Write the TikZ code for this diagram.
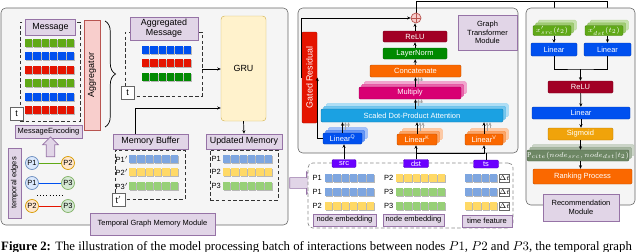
\documentclass[tikz,border=0pt]{standalone}
\usepackage{fontspec}
\setmainfont{Liberation Serif}
\setsansfont{Liberation Sans}
\usetikzlibrary{arrows.meta, positioning, calc, shadows, shapes.arrows, decorations.pathreplacing}

\definecolor{panelfill}{HTML}{F5F5F5}
\definecolor{paneldraw}{HTML}{666666}
\definecolor{lilafill}{HTML}{E1D5E7}
\definecolor{liladraw}{HTML}{9673A6}
\definecolor{rosefill}{HTML}{F8CECC}
\definecolor{rosedraw}{HTML}{B85450}
\definecolor{grufill}{HTML}{FFF2CC}
\definecolor{grudraw}{HTML}{D6B656}
\definecolor{cobaltbox}{HTML}{0050EF}
\definecolor{crimsonbox}{HTML}{A20025}
\definecolor{redbox}{HTML}{E51400}
\definecolor{emeraldbox}{HTML}{008A00}
\definecolor{limebox}{HTML}{60A917}
\definecolor{orangebox}{HTML}{FA6800}
\definecolor{magentabox}{HTML}{D80073}
\definecolor{cyanbox}{HTML}{1BA1E2}
\definecolor{amberbox}{HTML}{F0A30A}
\definecolor{olivebox}{HTML}{6D8764}
\definecolor{violetbox}{HTML}{6A00FF}
\definecolor{memblue}{HTML}{7EA6E0}
\definecolor{memyellow}{HTML}{FFD966}
\definecolor{memgreen}{HTML}{97D077}
\definecolor{pbluefill}{HTML}{DAE8FC}
\definecolor{pbluedraw}{HTML}{6C8EBF}
\definecolor{porangefill}{HTML}{FFE6CC}
\definecolor{porangedraw}{HTML}{D79B00}
\definecolor{pgreenfill}{HTML}{D5E8D4}
\definecolor{pgreendraw}{HTML}{82B366}

\newcommand{\lblfont}{\sffamily\fontsize{7.6}{8.6}\selectfont}
\newcommand{\boxfont}{\sffamily\fontsize{6.4}{7.4}\selectfont}

% one row of embedding cells: x, y (centre), count, colour
\newcommand{\cellrow}[4]{%
  \foreach \k in {1,...,#3}{
    \fill[black!28] ({#1+(\k-1)*8.3+0.9},{#2-3.7+0.9}) rectangle ++(7.4,7.4);
    \fill[#4] ({#1+(\k-1)*8.3},{#2-3.7}) rectangle ++(7.4,7.4);
  }}

\begin{document}
\begin{tikzpicture}[
  x=0.03cm, y=-0.03cm,
  >={Stealth[length=3pt,width=2.6pt]},
  every node/.style={font=\boxfont, inner sep=0pt},
  wh/.style 2 args={minimum width=#1*0.03cm, minimum height=#2*0.03cm},
  panel/.style={draw=paneldraw, fill=panelfill, rounded corners=4pt, line width=0.5pt},
  lila/.style={draw=liladraw, fill=lilafill, align=center, line width=0.6pt},
  group/.style={draw=black!80, densely dashed, line width=0.5pt},
  tbox/.style={draw=paneldraw, fill=white, wh={13}{13}, font=\lblfont},
  blk/.style={fill=#1, draw=#1!75!black, text=white, align=center, rounded corners=1pt},
  stk/.style={blk=#1,
    general shadow={fill=#1!35, draw=#1!45, shadow xshift=4.5pt, shadow yshift=4.5pt},
    general shadow={fill=#1!60, draw=#1!70, shadow xshift=2.3pt, shadow yshift=2.3pt}},
  pnode/.style 2 args={circle, fill=#1, draw=#2, wh={13}{13}, line width=0.6pt},
  dtbox/.style={draw=paneldraw, fill=white, wh={10}{8}},
  link/.style={->, line width=0.6pt},
  ghost/.style={->, black!35, line width=0.4pt}
]
\useasboundingbox (0,0) rectangle (640,252);

% Temporal Graph Memory Module
\node[panel, wh={287}{217}] (memmod) at (144.5,116.5) {};

% messages
\node[group, wh={60}{99}] (msgbox) at (50,71.5) {};
\node[lila, wh={50}{16}, font=\lblfont] (msgl) at (50.5,27) {Message};
\cellrow{25}{43}{6}{limebox}
\cellrow{25}{56}{6}{cobaltbox}
\cellrow{25}{70}{6}{redbox}
\cellrow{25}{83}{6}{limebox}
\cellrow{25}{97}{6}{cobaltbox}
\cellrow{25}{110}{6}{redbox}
\node[tbox] (tmsg) at (16.5,114) {t};

\node[draw=rosedraw, fill=rosefill, rotate=90, wh={110}{16}, font=\lblfont] (aggr) at (92,75) {Aggregator};
\draw[decorate, decoration={brace, amplitude=9pt}, line width=0.6pt] (105,21) -- (105,127);

% aggregated messages
\node[group, wh={77}{64}] (aggbox) at (163.5,64) {};
\node[lila, wh={68}{23}, font=\lblfont] (aggl) at (164,28.5) {Aggregated\\Message};
\cellrow{142}{50}{6}{cobaltbox}
\cellrow{142}{63}{6}{redbox}
\cellrow{142}{77}{6}{emeraldbox}
\node[tbox] (tagg) at (127.5,93) {t};

\node[draw=grudraw, fill=grufill, rounded corners=3pt, wh={45}{105}, font=\lblfont] (gru) at (243.5,68.5) {GRU};
\coordinate (aggout) at ($(aggbox.east)+(0,5)$);
\draw[link] (aggout) -- (aggout -| gru.west);

% memory buffer
\node[lila, wh={75}{15}, font=\lblfont] (bufl) at (150.5,141.5) {Memory Buffer};
\node[group, wh={70}{49}] (bufbox) at (150,174.5) {};
\node[anchor=west] (bp1) at (115.5,159) {P1$'$};
\node[anchor=west] (bp2) at (115.5,172) {P2$'$};
\node[anchor=west] (bp3) at (115.5,186) {P3$'$};
\cellrow{129}{159}{6}{memblue}
\cellrow{129}{172}{6}{memyellow}
\cellrow{129}{186}{6}{memgreen}
\node[tbox] (tbuf) at (118.5,200) {t$'$};
\draw[link] (bufl.north -| 135,0) |- (gru.west |- 0,108);

% updated memory
\node[lila, wh={76}{15}, font=\lblfont] (updl) at (244,141.5) {Updated Memory};
\node[group, wh={68}{50}] (updbox) at (244,175) {};
\node[anchor=west] (up1) at (211.5,159) {P1};
\node[anchor=west] (up2) at (211.5,172) {P2};
\node[anchor=west] (up3) at (211.5,186) {P3};
\cellrow{223}{159}{6}{memblue}
\cellrow{223}{172}{6}{memyellow}
\cellrow{223}{186}{6}{memgreen}
\draw[link] (gru.south) -- (updl.north);

% temporal edges
\node[lila, rotate=90, wh={70}{13}] (tedge) at (14.5,183) {temporal edges};
\node[pnode={pbluefill}{pbluedraw}] (ea1) at (32,163) {P1};
\node[pnode={porangefill}{porangedraw}] (ea2) at (68,163) {P2};
\node[pnode={pbluefill}{pbluedraw}] (eb1) at (32,183) {P1};
\node[pnode={pgreenfill}{pgreendraw}] (eb3) at (68,183) {P3};
\node[pnode={porangefill}{porangedraw}] (ec2) at (32,206) {P2};
\node[pnode={pgreenfill}{pgreendraw}] (ec3) at (68,206) {P3};
\draw[limebox, line width=0.7pt] (ea1) -- (ea2);
\draw[cobaltbox, line width=0.7pt] (eb1) -- (eb3);
\draw[redbox, line width=0.7pt] (ec2) -- (ec3);
\draw[dotted, line width=0.7pt] (37,195) -- (63,195);

\node[lila, wh={67}{13}] (menc) at (48.5,131.5) {MessageEncoding};
\node[single arrow, draw=liladraw, fill=lilafill, line width=0.6pt, shape border rotate=90,
  minimum height=20*0.03cm, inner sep=3.4pt, single arrow head extend=3pt] (encarr) at (50.5,149) {};

\node[lila, wh={125}{22}] (memmodl) at (152.5,224) {Temporal Graph Memory Module};

\node[single arrow, draw=liladraw, fill=lilafill, line width=0.6pt,
  minimum height=28*0.03cm, inner sep=4.3pt, single arrow head extend=5pt] (feedarr) at (301,183) {};

% Graph Transformer Module
\node[panel, wh={220}{145}] (gtmod) at (408,80.5) {};
\node[lila, wh={59}{35}] (gtmodl) at (487.5,32.5) {Graph\\Transformer\\Module};

\draw[line width=0.6pt] (416,13) |- (607,1) -- (607,20);
\draw[line width=0.6pt] (554,1) -- (554,20);

\node[circle, draw=rosedraw, fill=rosefill, wh={10}{10}, line width=0.6pt,
  path picture={\draw[rosedraw, line width=0.6pt]
    (path picture bounding box.north) -- (path picture bounding box.south)
    (path picture bounding box.west) -- (path picture bounding box.east);}] (oplus) at (416,18) {};
\node[blk=redbox, rotate=90, wh={91}{15}, font=\lblfont] (gres) at (309.5,77.5) {Gated Residual};
\node[blk=crimsonbox, wh={64}{11}] (relu) at (415,36.5) {ReLU};
\node[blk=emeraldbox, wh={64}{11}] (lnorm) at (415,53.5) {LayerNorm};
\node[blk=orangebox, wh={91}{12}] (concat) at (415.5,71) {Concatenate};
\node[stk=magentabox, wh={102}{12}] (mult) at (410,93) {Multiply};
\node[stk=cyanbox, wh={182}{13}] (attn) at (412,115.5) {Scaled Dot-Product Attention};
\node[stk=cobaltbox, wh={39}{11}] (lq) at (342.5,138.5) {Linear\textsuperscript{Q}};
\node[stk=orangebox, wh={40}{11}] (lk) at (417,139.5) {Linear\textsuperscript{K}};
\node[stk=orangebox, wh={38}{11}] (lv) at (484,139.5) {Linear\textsuperscript{V}};

\draw[link] (relu.north) -- (relu.north |- oplus.south);
\draw[link] (lnorm) -- (relu);
\draw[link] (concat) -- (lnorm);
\draw[link] (concat.south |- mult.north) -- (concat.south);
\draw[link] (concat.south |- attn.north) -- (concat.south |- mult.south);
\draw[link] (lq.north) -- (lq.north |- attn.south);
\draw[link] (lk.north) -- (lk.north |- attn.south);
\draw[link] (lv.north) -- (lv.north |- attn.south);
\foreach \d in {3,6}{
  \draw[ghost] ($(concat.south |- mult.north)+(\d,-\d)$) -- ($(concat.south)+(\d,0)$);
  \draw[ghost] ($(concat.south |- attn.north)+(\d,-\d)$) -- ($(concat.south |- mult.south)+(\d,0)$);
  \draw[ghost] ($(lq.north)+(\d,-\d)$) -- ($(lq.north |- attn.south)+(\d,0)$);
  \draw[ghost] ($(lk.north)+(\d,-\d)$) -- ($(lk.north |- attn.south)+(\d,0)$);
  \draw[ghost] ($(lv.north)+(\d,-\d)$) -- ($(lv.north |- attn.south)+(\d,0)$);
}
\draw[link] (lq.west) -| (gres.south);
\draw[link] (gres.north) |- (oplus.west);

% inputs of the batch
\node[draw=black!45, densely dashed, fill=white, rounded corners=4pt, wh={205}{65}, line width=0.6pt] (inbox) at (410.5,195.5) {};
\node[blk=violetbox, wh={24}{8}] (src) at (344,163.5) {src};
\node[blk=violetbox, wh={25}{8}] (dst) at (416,163.5) {dst};
\node[blk=violetbox, wh={25}{8}] (ts) at (486,164) {ts};

\node[anchor=west] (sp1) at (312.5,178) {P1};
\node[anchor=west] (sp2) at (312.5,192) {P1};
\node[anchor=west] (sp3) at (312.5,206) {P2};
\cellrow{325}{178}{6}{memblue}
\cellrow{325}{192}{6}{memblue}
\cellrow{325}{206}{6}{memyellow}
\node[anchor=west] (dp1) at (384,178) {P2};
\node[anchor=west] (dp2) at (384,192) {P3};
\node[anchor=west] (dp3) at (384,206) {P3};
\cellrow{396}{178}{6}{memyellow}
\cellrow{396}{192}{6}{memgreen}
\cellrow{396}{206}{6}{memgreen}
\cellrow{465}{178}{4}{memblue}
\cellrow{465}{192}{4}{memblue}
\cellrow{465}{206}{4}{memyellow}
\node[dtbox] (dt1) at (504.5,178) {$\Delta t$};
\node[dtbox] (dt2) at (504.5,192) {$\Delta t$};
\node[dtbox] (dt3) at (504.5,206) {$\Delta t$};

\node[lila, wh={63}{12}] (embs) at (344.5,220) {node embedding};
\node[lila, wh={61}{12}] (embd) at (413.5,220) {node embedding};
\node[lila, wh={50}{12}] (tfeat) at (487,221) {time feature};

\draw[link] (src.north) -- (src.north |- lq.south);
\draw[link] (dst.north) -- (dst.north |- lk.south);
\draw[link] (dst.north |- 0,153) -| (lv.south);
\draw[line width=0.6pt] (ts.north) -- (ts.north |- 0,153);

% Recommendation Module
\node[panel, wh={109}{197}] (recmod) at (580.5,106.5) {};
\node[stk=limebox, wh={38}{10}] (xsrc) at (552,30.5) {$x'_{src}(t_2)$};
\node[stk=limebox, wh={38}{10}] (xdst) at (604,30.5) {$x'_{dst}(t_2)$};
\node[blk=cobaltbox, wh={46}{13}] (lin1) at (554,49.5) {Linear};
\node[blk=cobaltbox, wh={47}{13}] (lin2) at (607.5,49.5) {Linear};
\node[blk=crimsonbox, wh={65}{12}] (relu2) at (580.5,87) {ReLU};
\node[blk=cobaltbox, wh={98}{12}] (lin3) at (581,113) {Linear};
\node[blk=amberbox, wh={65}{12}] (sigm) at (580.5,134) {Sigmoid};
\node[stk=olivebox, wh={92}{11}] (pcite) at (578,155.5) {$\mathrm{P}_{cite}(node_{src},node_{dst}|t_2)$};
\node[blk=orangebox, wh={99}{15}] (rank) at (582.5,176.5) {Ranking Process};
\node[lila, wh={76}{27}] (recmodl) at (581,207.5) {Recommendation\\Module};

\draw[link] (lin1.north |- xsrc.south) -- (lin1.north);
\draw[link] (lin2.north |- xdst.south) -- (lin2.north);
\coordinate (mrg) at (580.5,69);
\draw[line width=0.6pt] (lin1.south) |- (mrg) -| (lin2.south);
\draw[link] (mrg) -- (relu2.north);
\draw[link] (relu2) -- (lin3);
\draw[link] (lin3.south) -- (lin3.south |- sigm.north);
\draw[link] (sigm.south) -- (sigm.south |- pcite.north);
\draw[link] (sigm.south |- pcite.south) -- (sigm.south |- rank.north);

% caption line
\node[anchor=base west, font=\rmfamily\fontsize{10.9}{12}\selectfont] (capt) at (1,250)
  {\textbf{Figure 2:} The illustration of the model processing batch of interactions between nodes $P1$, $P2$ and $P3$, the temporal graph};
\end{tikzpicture}
\end{document}
